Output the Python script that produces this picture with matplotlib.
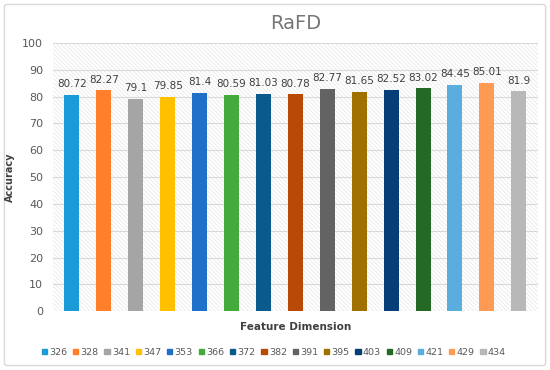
import matplotlib
matplotlib.use('Agg')
import matplotlib.pyplot as plt
from matplotlib.patches import Rectangle, FancyBboxPatch

# data
dims = ['326', '328', '341', '347', '353', '366', '372', '382',
        '391', '395', '403', '409', '421', '429', '434']
acc = [80.72, 82.27, 79.1, 79.85, 81.4, 80.59, 81.03, 80.78,
       82.77, 81.65, 82.52, 83.02, 84.45, 85.01, 81.9]
colors = ['#1b9ad8', '#ff7f2a', '#a5a5a5', '#ffc000', '#1f70c8', '#43ab3c',
          '#0b5a8e', '#b84a06', '#636363', '#a07000', '#063e78', '#246a24',
          '#5badde', '#ff9a52', '#b8b8b8']
yticks = [0, 10, 20, 30, 40, 50, 60, 70, 80, 90, 100]

plt.rcParams['hatch.linewidth'] = 0.5
plt.rcParams['hatch.color'] = '#e6e6e6'

fig = plt.figure(figsize=(5.5, 3.7), dpi=100)
fig.patches.append(FancyBboxPatch((0.008, 0.012), 0.984, 0.976,
                                  boxstyle='round,pad=0,rounding_size=0.006',
                                  transform=fig.transFigure, facecolor='none',
                                  edgecolor='#d9d9d9', linewidth=1, zorder=-1))
ax = fig.add_axes([0.096, 0.159, 0.882, 0.725])
ax.set_facecolor('none')

# hatched plot area background
ax.add_patch(Rectangle((0, 0), 1, 1, transform=ax.transAxes, facecolor='white',
                       edgecolor='#e6e6e6', hatch='\\\\\\\\\\\\\\\\', linewidth=0, zorder=0))

x = list(range(len(dims)))
bars = ax.bar(x, acc, width=0.47, color=colors, zorder=3)
for xi, v in zip(x, acc):
    ax.text(xi, v + 2.2, str(v), ha='center', va='bottom', fontsize=7.5,
            color='#404040', zorder=4)

ax.set_xlim(-0.6, len(dims) - 0.4)
ax.set_ylim(0, 100)
ax.set_yticks(yticks)
ax.set_xticks([])
ax.yaxis.grid(True, color='#d9d9d9', linewidth=0.8, zorder=1)
for s in ax.spines.values():
    s.set_visible(False)
ax.tick_params(axis='y', length=0, labelsize=8, labelcolor='#595959', pad=7)

ax.set_title('RaFD', fontsize=14, color='#767676', pad=10)
ax.set_ylabel('Accuracy', fontsize=7, fontweight='bold', color='#404040', labelpad=5)
ax.set_xlabel('Feature Dimension', fontsize=7.5, fontweight='bold', color='#404040',
              labelpad=8)

handles = [Rectangle((0, 0), 1, 1, color=c) for c in colors]
leg = fig.legend(handles, dims, loc='center', bbox_to_anchor=(0.498, 0.048),
                 ncol=len(dims), frameon=False, fontsize=6.8, handlelength=0.55,
                 handleheight=0.55, handletextpad=0.25, columnspacing=0.6,
                 borderpad=0)
for t in leg.get_texts():
    t.set_color('#595959')

fig.savefig('out.png', dpi=100)
